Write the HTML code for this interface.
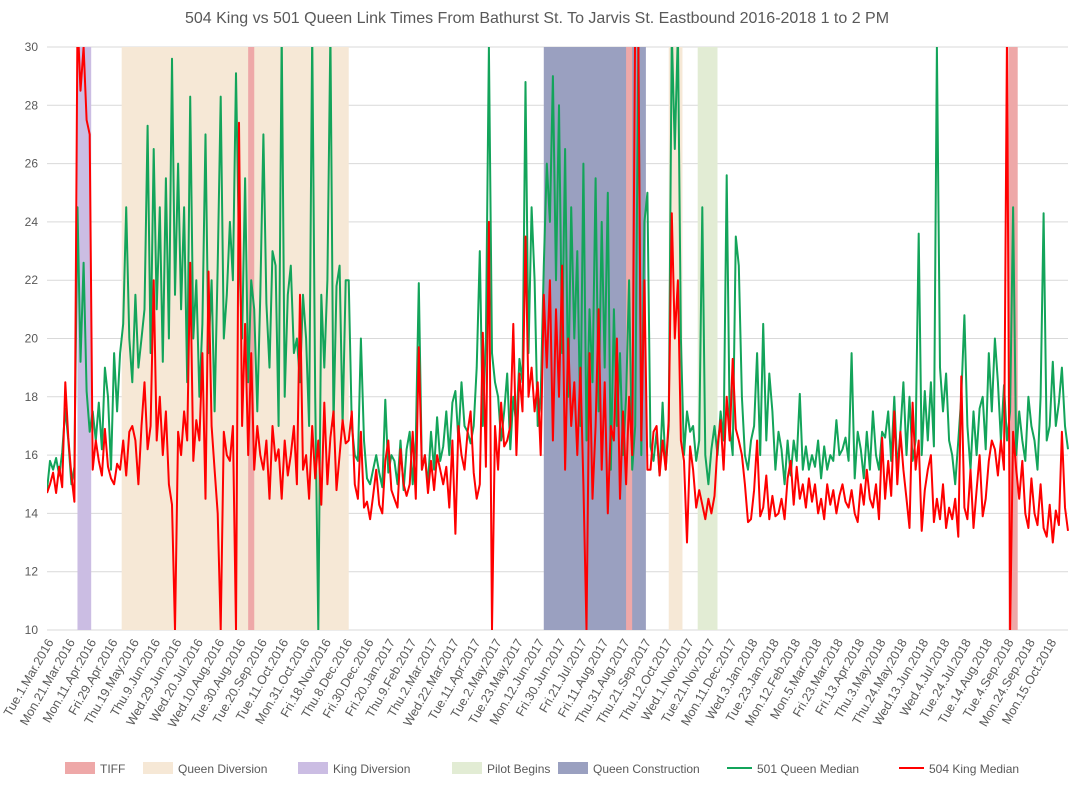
<!DOCTYPE html>
<html><head><meta charset="utf-8"><style>
body{margin:0;background:#fff;font-family:"Liberation Sans",sans-serif;}
svg text{font-family:"Liberation Sans",sans-serif;fill:#595959;}
</style></head><body>
<svg id="c" width="1074" height="784" xmlns="http://www.w3.org/2000/svg">
<defs>
<clipPath id="plotClip"><rect x="47" y="47" width="1022" height="583"/></clipPath>
</defs>
<text x="537" y="23" font-size="16" text-anchor="middle">504 King vs 501 Queen Link Times From Bathurst St. To Jarvis St. Eastbound 2016-2018 1 to 2 PM</text>
<g id="grid"></g><g id="bands" clip-path="url(#plotClip)"></g><g id="lines" clip-path="url(#plotClip)"></g><g id="yax"></g><g id="xax"></g><g id="legend"></g>
</svg>
<script>
const yTicks=[10,12,14,16,18,20,22,24,26,28,30];
const xLabels=["Tue.1.Mar.2016","Mon.21.Mar.2016","Mon.11.Apr.2016","Fri.29.Apr.2016","Thu.19.May.2016","Thu.9.Jun.2016","Wed.29.Jun.2016","Wed.20.Jul.2016","Wed.10.Aug.2016","Tue.30.Aug.2016","Tue.20.Sep.2016","Tue.11.Oct.2016","Mon.31.Oct.2016","Fri.18.Nov.2016","Thu.8.Dec.2016","Fri.30.Dec.2016","Fri.20.Jan.2017","Thu.9.Feb.2017","Thu.2.Mar.2017","Wed.22.Mar.2017","Tue.11.Apr.2017","Tue.2.May.2017","Tue.23.May.2017","Mon.12.Jun.2017","Fri.30.Jun.2017","Fri.21.Jul.2017","Fri.11.Aug.2017","Thu.31.Aug.2017","Thu.21.Sep.2017","Thu.12.Oct.2017","Wed.1.Nov.2017","Tue.21.Nov.2017","Mon.11.Dec.2017","Wed.3.Jan.2018","Tue.23.Jan.2018","Mon.12.Feb.2018","Mon.5.Mar.2018","Fri.23.Mar.2018","Fri.13.Apr.2018","Thu.3.May.2018","Thu.24.May.2018","Wed.13.Jun.2018","Wed.4.Jul.2018","Tue.24.Jul.2018","Tue.14.Aug.2018","Tue.4.Sep.2018","Mon.24.Sep.2018","Mon.15.Oct.2018"];
const totalDays=670;
const labelEvery=14;
// bands: [startDay,endDay]
const bandTIFF=[[132,136],[380,384],[631,637]];
const bandQueenDiv=[[49,198],[408,417]];
const bandKingDiv=[[20,29]];
const bandPilot=[[427,440]];
const bandQueenCon=[[326,393]];
const queen=[14.8,15.8,15.5,15.9,15.3,16.1,17.6,16.5,15.0,15.6,
24.5,19.2,22.6,18.2,16.8,
17.5,16.5,17.8,16.2,19,18.0,15.5,19.5,17.5,19.5,
20.5,24.5,20.0,18.5,21.5,19.0,20.0,21.0,27.3,19.5,26.5,21.0,24.5,19.2,25.5,20.0,29.6,21.5,26.0,21.0,24.5,18.5,28.3,20.0,22.0,18.0,20.5,27.0,19.5,22.0,17.5,22.5,28.3,20.0,21.5,24.0,22.0,29.1,23.0,20.0,25.5,18.5,22.0,21.0,17.5,21.5,27.0,21.2,19.0,23.0,22.5,17.0,30.5,18.0,21.5,22.5,19.5,20.0,18.5,21.5,20.0,17.0,30.5,18.0,10.0,21.5,19.0,22.0,30.5,17.0,21.8,22.5,17.0,22.0,
22.0,17.0,16.0,15.8,20.0,16.5,15.2,15.0,15.5,16.0,15.4,14.9,17.9,15.4,16.0,15.8,15.0,16.5,14.8,16.2,16.8,15.0,16.5,21.9,15.5,16.0,15.0,16.8,15.5,17.3,15.8,
16.3,17.5,16.0,17.8,18.2,16.5,18.5,17.0,16.8,16.4,17.0,19.0,23.0,17.0,20.0,30.0,19.5,18.5,18.0,16.5,17.5,18.8,16.2,18.0,17.0,19.3,18.5,28.8,19.5,24.5,22.0,17.0,18.0,22.5,26.0,24.0,
29.0,22.0,28.0,19.5,26.5,18.0,24.5,20.0,23.0,17.0,26.0,16.5,21.0,18.5,25.5,17.5,24.0,19.0,25.0,15.5,21.0,17.0,19.5,16.0,18.0,22.0,15.5,17.0,30.0,16.0,24.0,25.0,
16.3,15.8,16.8,15.3,17.8,15.5,17.0,30.5,26.5,30.5,20.0,16.0,17.5,16.8,17.0,15.8,16.5,24.5,16.0,15.0,16.2,17.0,
16.0,17.5,16.5,25.6,17.0,16.0,23.5,22.5,18.0,16.0,15.5,16.5,17.0,19.5,16.0,20.5,16.5,18.8,17.5,15.5,
16.8,16.2,15.0,16.5,15.3,16.5,15.8,18.1,15.5,16.3,15.5,16.0,15.6,16.5,15.2,16.3,15.5,16.0,15.8,17.2,
16.0,16.2,16.6,15.8,19.5,15.2,16.8,16.2,15.2,16.8,15.5,17.5,16.0,15.5,16.8,16.6,17.5,15.8,18.0,15.5,
16.8,18.5,16.0,18.0,15.8,16.5,23.6,16.0,18.2,16.5,18.5,16.3,30.0,19.0,17.5,18.8,16.5,16.0,15.0,16.5,
18.0,20.8,17.0,15.5,17.5,16.0,17.6,18.0,16.2,19.5,17.5,20.0,18.5,16.5,18.4,16.5,17.5,24.5,16.0,17.5,
16.5,15.8,18.0,17.0,16.5,15.5,18.0,24.3,16.5,17.0,19.2,17.0,17.8,19.0,17.0,16.2];
const king=[14.7,15.0,15.4,14.7,15.6,14.9,18.5,16.6,15.3,14.4,
31,28.5,30,27.5,27.0,
15.5,16.5,15.8,15.3,16.9,15.6,15.2,15.0,15.7,15.5,
16.5,15.3,16.8,17.0,16.5,15.0,17.0,18.5,16.2,17.0,22.0,16.5,18.0,16.0,17.5,15.0,14.3,10.0,16.8,16.0,17.5,16.5,22.6,15.8,17.2,16.5,19.5,14.5,22.3,17.0,15.5,14.0,10.0,16.8,16.0,15.8,17.0,10.0,27.4,17.0,20.5,16.0,19.5,15.5,17.0,16.0,15.5,16.5,14.5,17.0,15.8,16.2,14.5,16.5,15.3,16.0,17.0,15.0,21.5,15.5,16.0,14.5,17.0,15.2,16.5,14.3,17.8,15.0,16.6,17.5,14.8,16.0,17.2,16.4,
16.5,17.5,15.0,14.5,16.8,14.2,14.4,13.8,14.6,15.5,14.3,14.0,15.8,16.5,14.8,14.5,14.2,16.2,15.0,14.6,15.0,16.8,14.5,19.7,15.5,16.0,14.7,15.8,14.8,16.0,15.5,
15.0,15.6,14.2,16.5,13.3,17.0,16.0,15.5,16.8,17.5,15.4,14.5,15.0,20.2,15.6,24.0,10.0,17.0,15.5,17.8,16.3,16.5,17.0,20.5,16.0,18.8,17.5,23.5,18.0,19.0,17.5,18.5,16.0,21.5,19.0,22.0,
16.5,21.0,18.0,22.5,15.5,20.0,17.0,18.5,16.0,19.0,15.0,10.0,19.5,14.5,17.0,21.0,15.5,18.5,14.0,17.0,16.5,20.0,14.5,17.5,15.0,18.0,16.0,31.0,30.5,16.5,22.0,15.5,
15.5,16.8,17.0,15.3,16.5,15.5,17.2,24.3,20.0,22.0,16.5,15.8,13.0,16.3,15.5,14.2,14.8,14.3,13.8,14.5,14.0,14.6,
16.3,17.2,15.5,18.0,16.5,19.3,16.9,16.5,16.0,15.0,13.7,13.8,14.8,16.5,13.9,14.2,15.3,13.8,14.6,13.9,
14.0,14.5,13.8,15.2,15.8,14.3,15.6,14.5,15.0,14.2,15.2,14.4,15.0,14.0,14.5,13.8,15.0,14.3,14.8,14.0,
14.6,15.0,14.4,14.2,14.8,14.0,13.7,15.0,14.3,15.5,14.5,14.2,15.0,13.8,16.6,14.5,15.8,14.6,17.5,15.0,
16.8,15.5,14.5,13.5,17.8,15.5,16.5,13.4,14.8,15.5,16.0,13.7,14.5,13.8,15.0,13.5,14.2,13.8,14.5,13.2,
18.7,14.2,13.8,15.5,13.5,14.8,16.0,13.9,14.5,15.8,16.5,16.2,15.3,16.5,15.5,30.5,10.0,16.8,15.5,14.5,
15.8,14.0,13.5,15.2,14.0,13.6,15.0,13.5,13.2,14.3,13.0,14.1,13.6,16.8,14.2,13.4];

const L=47,R=1068,T=47,B=630,NS="http://www.w3.org/2000/svg";
const yS=v=>B-(v-10)/20*(B-T);
const xDay=d=>L+d/totalDays*(R-L);
const xIdx=(i,n)=>L+i/(n-1)*(R-L);
function mk(tag,attrs,parent){const e=document.createElementNS(NS,tag);for(const k in attrs)e.setAttribute(k,attrs[k]);parent.appendChild(e);return e;}
const grid=document.getElementById('grid'),yax=document.getElementById('yax'),xax=document.getElementById('xax');
yTicks.forEach(v=>{
 const g=mk('line',{x1:L,x2:R,y1:yS(v),y2:yS(v),stroke:'#d9d9d9','stroke-width':1},grid);
 
 
 const t=mk('text',{x:38,y:yS(v)+4,'font-size':12,'text-anchor':'end'},yax);t.textContent=v;
 
 
});
xLabels.forEach((s,k)=>{
 const x=xDay(k*labelEvery)+7, y=642;
 const t=mk('text',{x:x,y:y,'font-size':12.5,'text-anchor':'end',transform:`rotate(-60 ${x} ${y})`},xax);t.textContent=s;
 
 
});
const cTIFF='#eea8a8',cQD='#f6e8d6',cKD='#cbbde3',cPB='#e2ecd4',cQC='#9aa0c0';
const bands=document.getElementById('bands');
function drawBands(arr,fill,name){arr.forEach(b=>{
 const r=mk('rect',{x:xDay(b[0]),y:T,width:xDay(b[1])-xDay(b[0]),height:B-T,fill:fill},bands);
 
 
});}
drawBands(bandQueenDiv,cQD,'queen-diversion-band');
drawBands(bandKingDiv,cKD,'king-diversion-band');
drawBands(bandPilot,cPB,'pilot-begins-band');
drawBands(bandQueenCon,cQC,'queen-construction-band');
drawBands(bandTIFF,cTIFF,'tiff-band');
const lines=document.getElementById('lines');
function drawLine(arr,color,name){
 const n=Math.max(queen.length,king.length);
 const pts=arr.map((v,i)=>xIdx(i,n).toFixed(1)+','+yS(v).toFixed(1)).join(' ');
 const p=mk('polyline',{points:pts,fill:'none',stroke:color,'stroke-width':2,'stroke-linejoin':'round'},lines);
 
 
}
drawLine(queen,'#13a45a','queen-501-line');
drawLine(king,'#ff0000','king-504-line');
const lg=document.getElementById('legend');
const legItems=[["TIFF",cTIFF,65,'legend-tiff'],["Queen Diversion",cQD,143,'legend-queen-diversion'],["King Diversion",cKD,298,'legend-king-diversion'],["Pilot Begins",cPB,452,'legend-pilot-begins'],["Queen Construction",cQC,558,'legend-queen-construction']];
legItems.forEach(it=>{
 const g=mk('g',{},lg);
 
 
 mk('rect',{x:it[2],y:762,width:30,height:12,fill:it[1]},g);
 const t=mk('text',{x:it[2]+35,y:773,'font-size':12},g);t.textContent=it[0];
});
[["501 Queen Median","#13a45a",727,'legend-501-queen'],["504 King Median","#ff0000",899,'legend-504-king']].forEach(it=>{
 const g=mk('g',{},lg);
 
 
 mk('line',{x1:it[2],x2:it[2]+25,y1:768,y2:768,stroke:it[1],'stroke-width':2},g);
 const t=mk('text',{x:it[2]+30,y:773,'font-size':12},g);t.textContent=it[0];
});
</script>
</body></html>
